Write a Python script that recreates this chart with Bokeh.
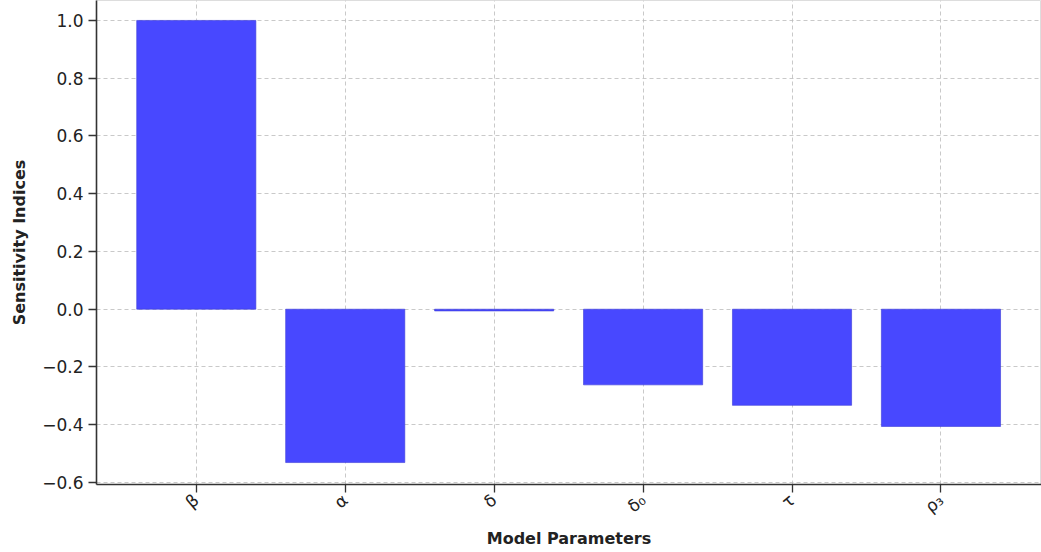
from bokeh.plotting import figure
from bokeh.models import Range1d, ColumnDataSource, FixedTicker
from bokeh.embed import file_html
from bokeh.resources import INLINE
import math

# Sensitivity indices of each model parameter
parameters = ["β", "α", "δ", "δ₀", "τ", "ρ₃"]
sensitivity = [1.0, -0.531, -0.006, -0.262, -0.333, -0.406]
y_ticks = [-0.6, -0.4, -0.2, 0.0, 0.2, 0.4, 0.6, 0.8, 1.0]

positions = list(range(len(parameters)))
source = ColumnDataSource(dict(x=positions, top=sensitivity))

p = figure(
    width=1041, height=552,
    output_backend="svg", toolbar_location=None,
    x_range=Range1d(-0.67, 5.675),
    y_range=Range1d(-0.607, 1.069),
    min_border_left=96, min_border_right=0, min_border_top=0, min_border_bottom=68,
)
p.background_fill_color = "white"
p.border_fill_color = "white"
p.outline_line_color = "#dddddd"

p.vbar(x="x", top="top", bottom=0, width=0.8, source=source,
       fill_color="#4848ff", line_color="#3b3bd8", line_width=0.6)

font = "DejaVu Sans"

# x axis: one tick per parameter
p.xaxis.ticker = FixedTicker(ticks=positions)
p.xaxis.major_label_overrides = {i: name for i, name in enumerate(parameters)}
p.xaxis.major_label_orientation = math.radians(40)
p.xaxis.axis_label = "Model Parameters"

# y axis
p.yaxis.ticker = FixedTicker(ticks=y_ticks)
p.yaxis.major_label_overrides = {
    t: (f"{t:.1f}".replace("-", "−") if abs(t) > 1e-9 else "0.0") for t in y_ticks
}
p.yaxis.axis_label = "Sensitivity Indices"

for ax in (p.xaxis[0], p.yaxis[0]):
    ax.axis_line_color = "#333333"
    ax.axis_line_width = 1.6
    ax.major_tick_line_color = "#333333"
    ax.major_tick_line_width = 1.3
    ax.major_tick_out = 8
    ax.major_tick_in = 0
    ax.minor_tick_line_color = None
    ax.major_label_standoff = 5
    ax.major_label_text_font = font
    ax.major_label_text_font_size = "17px"
    ax.major_label_text_color = "#222222"
    ax.axis_label_text_font = font
    ax.axis_label_text_font_size = "16px"
    ax.axis_label_text_font_style = "bold"
    ax.axis_label_text_color = "#222222"

p.xaxis.axis_label_standoff = 2
p.yaxis.axis_label_standoff = 10

for g in (p.xgrid[0], p.ygrid[0]):
    g.grid_line_color = "#bbbbbb"
    g.grid_line_dash = "4 3"
    g.grid_line_width = 1
    g.grid_line_alpha = 0.8

open("out.html", "w").write(file_html(p, INLINE))
